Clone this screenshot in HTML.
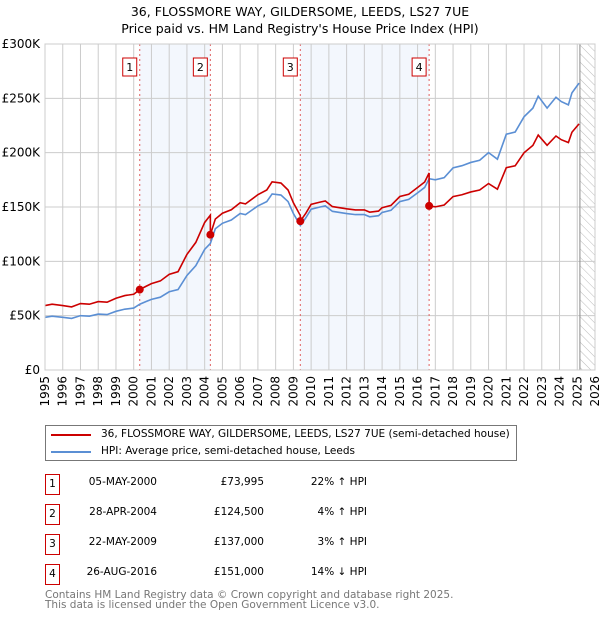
<!DOCTYPE html>
<html><head><meta charset="utf-8"><style>
body{margin:0;background:#fff;font-family:"DejaVu Sans","Liberation Sans",sans-serif;}
#wrap{position:relative;width:600px;height:620px;overflow:hidden}
.t{position:absolute;font-size:10.5px;color:#000;white-space:nowrap}
.num{position:absolute;width:13px;height:19px;border:1px solid #c00;font-size:10.5px;text-align:center;line-height:19px;background:#fff}
</style></head><body>
<div id="wrap">
<div class="t" style="left:0;width:600px;text-align:center;top:4px;font-size:12.5px">36, FLOSSMORE WAY, GILDERSOME, LEEDS, LS27 7UE</div>
<div class="t" style="left:0;width:600px;text-align:center;top:21px;font-size:12.5px">Price paid vs. HM Land Registry's House Price Index (HPI)</div>
<svg id="chart" width="600" height="420" style="position:absolute;left:0;top:0"></svg>
<div style="position:absolute;left:45px;top:425px;width:470px;height:34px;border:1px solid #777">
 <div><div style="position:absolute;left:5px;top:8px;width:40px;height:2px;background:#c00"></div><div class="t" style="left:55px;top:2px">36, FLOSSMORE WAY, GILDERSOME, LEEDS, LS27 7UE (semi-detached house)</div></div>
 <div><div style="position:absolute;left:5px;top:25px;width:40px;height:2px;background:#5b8fd4"></div><div class="t" style="left:55px;top:19px">HPI: Average price, semi-detached house, Leeds</div></div>
</div>
<div id="table"></div>
<div class="t" style="left:45px;top:589px;color:#777">Contains HM Land Registry data © Crown copyright and database right 2025.</div>
<div class="t" style="left:45px;top:599px;color:#777">This data is licensed under the Open Government Licence v3.0.</div>
</div>
<script>
const hpiYears=[1995,1995.4,1996,1996.5,1997,1997.5,1998,1998.5,1999,1999.5,2000,2000.34,2000.7,2001,2001.5,2002,2002.5,2003,2003.5,2004,2004.32,2004.6,2005,2005.5,2006,2006.3,2007,2007.5,2007.8,2008.3,2008.7,2009,2009.39,2009.7,2010,2010.5,2010.8,2011.2,2012,2012.5,2013,2013.3,2013.8,2014,2014.5,2015,2015.5,2016,2016.4,2016.65,2017,2017.5,2018,2018.5,2019,2019.5,2020,2020.5,2021,2021.5,2022,2022.5,2022.8,2023.3,2023.8,2024.1,2024.5,2024.7,2025.1];
const hpiValues=[48.5,49.5,48.5,47.5,50,49.5,51.5,51,54,56,57,60.5,63,65,67,72,74,87,96,111,116.5,130,135,138,144,143,151,155,162,161,155,144,133,140,148,150,151,146,144,143,143,141,142,145,147,155,157,163,168,176,175,177,186,188,191,193,200,194,217,219,233,241,252,241,251,247,244,255,264];
const saleYears=[2000.34,2004.32,2009.39,2016.65];
const salePrices=[73.995,124.5,137,151];
const saleLabels=["1","2","3","4"];
const saleDates=["05-MAY-2000","28-APR-2004","22-MAY-2009","26-AUG-2016"];
const salePriceText=["£73,995","£124,500","£137,000","£151,000"];
const saleHpiText=["22% ↑ HPI","4% ↑ HPI","3% ↑ HPI","14% ↓ HPI"];
const yTicks=[0,50,100,150,200,250,300];
const yTickLabels=["£0","£50K","£100K","£150K","£200K","£250K","£300K"];
const xTicks=[1995,1996,1997,1998,1999,2000,2001,2002,2003,2004,2005,2006,2007,2008,2009,2010,2011,2012,2013,2014,2015,2016,2017,2018,2019,2020,2021,2022,2023,2024,2025,2026];

const X0=45,X1=595,Y0=370,Y1=44;
const xs=y=>X0+(y-1995)/(2026-1995)*(X1-X0);
const ys=v=>Y0-v/300*(Y0-Y1);
const NS="http://www.w3.org/2000/svg";
const svg=document.getElementById('chart');
function mk(tag,attrs,name){const e=document.createElementNS(NS,tag);for(const k in attrs)e.setAttribute(k,attrs[k]);


svg.appendChild(e);return e;}
function hpiAt(y){for(let i=0;i<hpiYears.length-1;i++){if(y<=hpiYears[i+1]){const t=(y-hpiYears[i])/(hpiYears[i+1]-hpiYears[i]);return hpiValues[i]+t*(hpiValues[i+1]-hpiValues[i]);}}return hpiValues[hpiValues.length-1];}
mk('rect',{x:xs(saleYears[0]),y:Y1,width:xs(saleYears[1])-xs(saleYears[0]),height:Y0-Y1,fill:'#eef3fc',opacity:0.7},'shade-sale-1-2');
mk('rect',{x:xs(saleYears[2]),y:Y1,width:xs(saleYears[3])-xs(saleYears[2]),height:Y0-Y1,fill:'#eef3fc',opacity:0.7},'shade-sale-3-4');
const defs=document.createElementNS(NS,'defs');defs.innerHTML='<pattern id="hp" width="6" height="6" patternUnits="userSpaceOnUse" patternTransform="rotate(-45)"><line x1="0" y1="0" x2="0" y2="6" stroke="#bbb" stroke-width="1"/></pattern>';svg.appendChild(defs);
mk('rect',{x:xs(2025.15),y:Y1,width:X1-xs(2025.15),height:Y0-Y1,fill:'url(#hp)'},'future-hatch');
xTicks.forEach(t=>{mk('line',{x1:xs(t),x2:xs(t),y1:Y1,y2:Y0,stroke:'#ccc','stroke-width':1},'x-grid-'+t);
 const tx=mk('text',{x:0,y:0,transform:`translate(${xs(t)+4},${Y0+6}) rotate(-90)`,'text-anchor':'end','font-size':12,'font-family':'DejaVu Sans, sans-serif'},'x-tick-'+t);tx.textContent=t;});
yTicks.forEach((t,i)=>{mk('line',{x1:X0,x2:X1,y1:ys(t),y2:ys(t),stroke:'#ccc','stroke-width':1},'y-grid-'+t);
 const tx=mk('text',{x:X0-5,y:ys(t)+4,'text-anchor':'end','font-size':12,'font-family':'DejaVu Sans, sans-serif'},'y-tick-'+t);tx.textContent=yTickLabels[i];});
mk('line',{x1:xs(2025.15),x2:xs(2025.15),y1:Y1,y2:Y0,stroke:'#888','stroke-width':1},'data-end-line');
saleYears.forEach((s,i)=>mk('line',{x1:xs(s),x2:xs(s),y1:Y1,y2:Y0,stroke:'#e06060','stroke-width':1,'stroke-dasharray':'2,3'},'sale-line-'+(i+1)));
mk('polyline',{points:hpiYears.map((y,i)=>xs(y)+','+ys(hpiValues[i])).join(' '),fill:'none',stroke:'#5b8fd4','stroke-width':1.6},'hpi-line');
const ratios=saleYears.map((s,i)=>salePrices[i]/hpiAt(s));
const rp=[];
hpiYears.forEach((y,i)=>{let k=0;for(let j=0;j<saleYears.length;j++){if(y>=saleYears[j])k=j;}
 if(saleYears.indexOf(y)>0){rp.push(xs(y)+','+ys(hpiValues[i]*ratios[saleYears.indexOf(y)-1]));}
 rp.push(xs(y)+','+ys(hpiValues[i]*ratios[k]));});
mk('polyline',{points:rp.join(' '),fill:'none',stroke:'#c00','stroke-width':1.6},'property-line');
saleYears.forEach((s,i)=>{mk('circle',{cx:xs(s),cy:ys(salePrices[i]),r:4,fill:'#c00'},'sale-marker-'+(i+1));
 mk('rect',{x:xs(s)-17,y:58,width:14,height:18,fill:'#fff',stroke:'#c00'},'sale-label-box-'+(i+1));
 const tx=mk('text',{x:xs(s)-10,y:71,'text-anchor':'middle','font-size':11,'font-family':'DejaVu Sans, sans-serif'},'sale-label-'+(i+1));tx.textContent=saleLabels[i];});
mk('rect',{x:X0,y:Y1,width:X1-X0,height:Y0-Y1,fill:'none',stroke:'#ccc'},'plot-border');
const tb=document.getElementById('table');
saleDates.forEach((d,i)=>{const top=476+i*30;const r=document.createElement('div');


r.innerHTML=`<div class="num" style="left:45px;top:${top-2}px">${saleLabels[i]}</div><div class="t" style="left:57px;width:100px;text-align:right;top:${top}px">${d}</div><div class="t" style="left:164px;width:100px;text-align:right;top:${top}px">${salePriceText[i]}</div><div class="t" style="left:267px;width:100px;text-align:right;top:${top}px">${saleHpiText[i]}</div>`;
tb.appendChild(r);});
</script>
</body></html>
